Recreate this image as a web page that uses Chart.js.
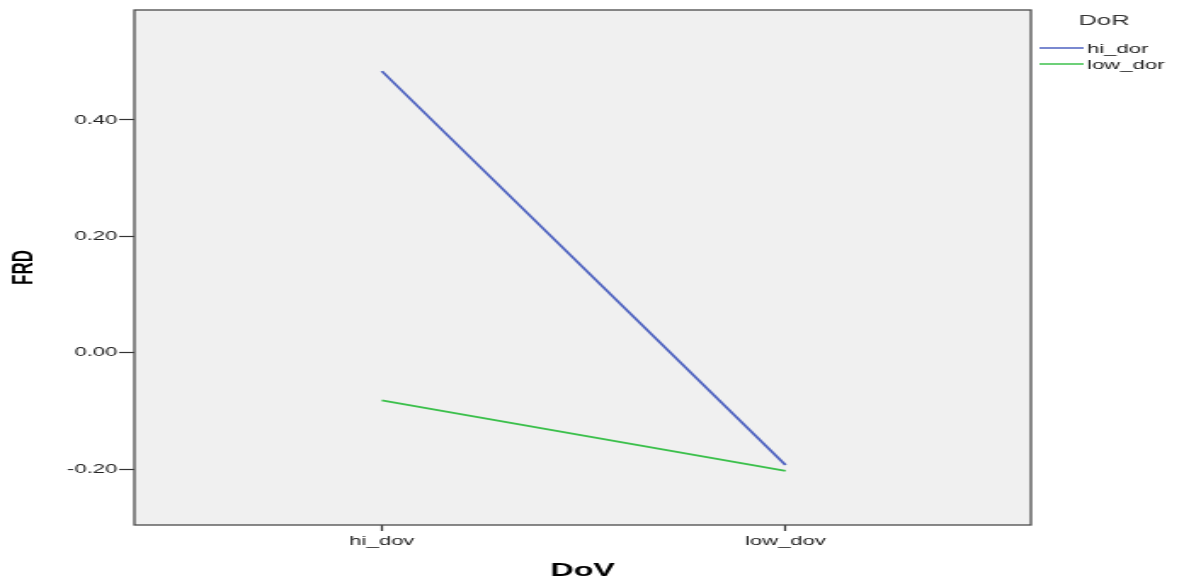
<!DOCTYPE html>
<html>
<head>
<meta charset="utf-8">
<script src="https://cdn.jsdelivr.net/npm/chart.js@4/dist/chart.umd.min.js"></script>
<style>
  html, body { margin: 0; padding: 0; background: #fff; overflow: hidden; }
  /* the original picture is stretched sideways, so the canvas is too */
  #frdChart { display: block; width: 1184px !important; height: 583px !important; }
</style>
</head>
<body>
<canvas id="frdChart" width="696" height="583" style="width:1184px;height:583px"></canvas>
<script>
// data
var dovCategories = ["hi_dov", "low_dov"];
var hiDorValues = [0.484, -0.193];
var lowDorValues = [-0.082, -0.203];
var yTickValues = [-0.20, 0.00, 0.20, 0.40];

var cHiDor = "#4e62c0";
var cLowDor = "#3cc04c";
var fontName = "'Liberation Sans', Arial, sans-serif";

function toPoints(vals) {
    var pts = [];
    for (var i = 0; i < vals.length; i++) {
        pts.push({ x: i + 1, y: vals[i] });
    }
    return pts;
}

// grey plot background and dark frame
var frameBox = {
    id: 'frameBox',
    beforeDraw: function (chart) {
        var a = chart.chartArea, ctx = chart.ctx;
        ctx.save();
        ctx.fillStyle = '#f0f0f0';
        ctx.fillRect(a.left, a.top, a.right - a.left, a.bottom - a.top);
        ctx.restore();
    },
    afterDraw: function (chart) {
        var a = chart.chartArea, ctx = chart.ctx;
        ctx.save();
        ctx.strokeStyle = '#4a4a4a';
        ctx.lineWidth = 1.3;
        ctx.strokeRect(a.left, a.top, a.right - a.left, a.bottom - a.top);
        ctx.restore();
    }
};

// legend to the right of the frame, SPSS style
var sideLegend = {
    id: 'sideLegend',
    afterDraw: function (chart) {
        var ctx = chart.ctx;
        var x0 = chart.chartArea.right + 5;
        ctx.save();
        ctx.fillStyle = '#333';
        ctx.font = '15px ' + fontName;
        ctx.textAlign = 'center';
        ctx.textBaseline = 'middle';
        ctx.fillText('DoR', x0 + 38, 21);
        ctx.font = '13px ' + fontName;
        ctx.textAlign = 'left';
        chart.data.datasets.forEach(function (ds, i) {
            var y = 48 + i * 16;
            ctx.strokeStyle = ds.borderColor;
            ctx.lineWidth = 1.5;
            ctx.beginPath();
            ctx.moveTo(x0, y);
            ctx.lineTo(x0 + 26, y);
            ctx.stroke();
            ctx.fillStyle = '#222';
            ctx.fillText(ds.label, x0 + 28, y + 1);
        });
        ctx.restore();
    }
};

var chartObj = new Chart(document.getElementById('frdChart').getContext('2d'), {
    type: 'line',
    data: {
        datasets: [
            {
                label: 'hi_dor',
                data: toPoints(hiDorValues),
                borderColor: cHiDor,
                borderWidth: 1.8,
                fill: false,
                pointRadius: 0
            },
            {
                label: 'low_dor',
                data: toPoints(lowDorValues),
                borderColor: cLowDor,
                borderWidth: 1.8,
                fill: false,
                pointRadius: 0
            }
        ]
    },
    plugins: [frameBox, sideLegend],
    options: {
        responsive: false,
        devicePixelRatio: 1,
        animation: false,
        layout: { padding: { left: 0, right: 90, top: 10, bottom: 0 } },
        plugins: {
            legend: { display: false },
            tooltip: { enabled: false }
        },
        scales: {
            x: {
                type: 'linear',
                min: 0.387,
                max: 2.608,
                afterBuildTicks: function (scale) {
                    scale.ticks = dovCategories.map(function (c, i) { return { value: i + 1 }; });
                },
                afterFit: function (scale) { scale.height = 58; },
                ticks: {
                    color: '#222',
                    font: { size: 13, family: fontName },
                    padding: 3,
                    maxRotation: 0,
                    callback: function (v) { return dovCategories[v - 1]; }
                },
                grid: { drawOnChartArea: false, tickLength: 6, color: '#333', tickWidth: 1.2 },
                border: { display: false },
                title: {
                    display: true,
                    text: 'DoV',
                    color: '#000',
                    font: { size: 19, weight: 'bold', family: fontName },
                    padding: { top: 0, bottom: 1 }
                }
            },
            y: {
                min: -0.296,
                max: 0.589,
                afterBuildTicks: function (scale) {
                    scale.ticks = yTickValues.map(function (v) { return { value: v }; });
                },
                afterFit: function (scale) { scale.width = 79; },
                ticks: {
                    color: '#222',
                    font: { size: 13, family: fontName },
                    padding: 1,
                    callback: function (v) { return v.toFixed(2); }
                },
                grid: { drawOnChartArea: false, tickLength: 9, color: '#333', tickWidth: 1.2 },
                border: { display: false },
                title: {
                    display: true,
                    text: 'FRD',
                    color: '#000',
                    font: { size: 17, weight: 'bold', family: fontName },
                    padding: { top: 4, bottom: 0 }
                }
            }
        }
    }
});
</script>
</body>
</html>
